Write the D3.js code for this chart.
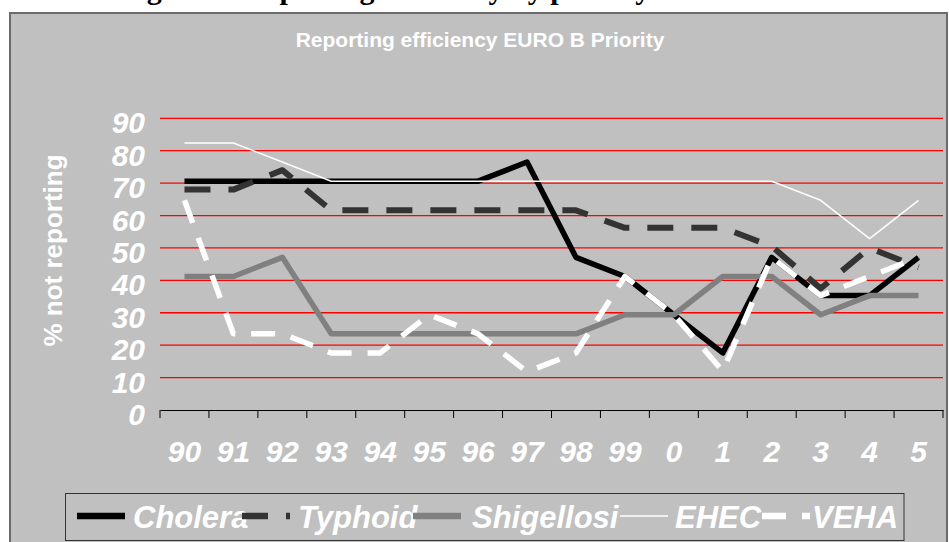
<!DOCTYPE html>
<html>
<head>
<meta charset="utf-8">
<script src="https://cdn.jsdelivr.net/npm/d3@7"></script>
<style>
  body { margin: 0; background: #fff; }
  text { font-family: "Liberation Sans", Arial, sans-serif; }
</style>
</head>
<body>
<svg width="949" height="542"></svg>
<script>
// categories (years) and % not reporting per disease
var years = ['90','91','92','93','94','95','96','97','98','99','0','1','2','3','4','5'];
var cholera     = [70.6,70.6,70.6,70.6,70.6,70.6,70.6,76.5,47.1,41.2,29.4,17.6,47.1,35.3,35.3,47.1];
var typhoid     = [68,68,74,61.6,61.6,61.6,61.6,61.6,61.6,56.2,56.2,56.2,50.5,37.5,50,44];
var shigellosis = [41.2,41.2,47.1,23.5,23.5,23.5,23.5,23.5,23.5,29.4,29.4,41.2,41.2,29.4,35.3,35.3];
var ehec        = [82.4,82.4,76.5,70.6,70.6,70.6,70.6,70.6,70.6,70.6,70.6,70.6,70.6,64.7,52.9,64.7];
var veha        = [64.7,23.5,23.5,17.6,17.6,29.4,23.5,11.8,17.6,41.2,29.4,12,47.1,35.3,41.2,47.1];
var yTicks = [0,10,20,30,40,50,60,70,80,90];

var series = [
  {name: 'Cholera',    values: cholera,     color: '#000',    width: 5.5, dash: null,    lx: 77,  tx: 133},
  {name: 'Typhoid',    values: typhoid,     color: '#333',    width: 6,   dash: '26,18', lx: 242, tx: 298},
  {name: 'Shigellosi', values: shigellosis, color: '#808080', width: 5.5, dash: null,    lx: 413, tx: 472},
  {name: 'EHEC',       values: ehec,        color: '#fff',    width: 1.5, dash: null,    lx: 620, tx: 675},
  {name: 'VEHA',       values: veha,        color: '#fff',    width: 5.5, dash: '24,16', lx: 762, tx: 812}
];

var svg = d3.select('svg');

// caption of the document above the chart, mostly cut off by the page edge
svg.append('text')
  .attr('x', 120).attr('y', -1)
  .style('font-family', '"Liberation Serif", "Times New Roman", serif')
  .style('font-weight', 'bold').style('font-size', '30px')
  .attr('fill', '#000')
  .text('Figure 4: Reporting efficiency by priority disease');

// chart frame
svg.append('rect')
  .attr('x', 10).attr('y', 13).attr('width', 937).attr('height', 545)
  .attr('fill', '#c0c0c0').attr('stroke', '#6b6b6b').attr('stroke-width', 2);

svg.append('text')
  .attr('x', 480).attr('y', 47)
  .attr('text-anchor', 'middle')
  .attr('fill', '#fff').style('font-weight', 'bold').style('font-size', '21px')
  .text('Reporting efficiency EURO B Priority');

var x = d3.scaleBand().domain(years).range([160, 943]).padding(0);
var y = d3.scaleLinear().domain([0, 90]).range([410, 118.3]);
var cx = function(i) { return x(years[i]) + x.bandwidth() / 2; };

// red gridlines
svg.append('g').selectAll('line')
  .data(yTicks.filter(function(d) { return d > 0; }))
  .enter().append('line')
  .attr('x1', 160).attr('x2', 943)
  .attr('y1', function(d) { return y(d); })
  .attr('y2', function(d) { return y(d); })
  .attr('stroke', '#ff0000').attr('stroke-width', 1.3);

// y labels
svg.append('g').selectAll('text')
  .data(yTicks)
  .enter().append('text')
  .attr('x', 145)
  .attr('y', function(d) { return y(d) + 15; })
  .attr('text-anchor', 'end')
  .attr('fill', '#fff')
  .style('font-weight', 'bold').style('font-style', 'italic').style('font-size', '30px')
  .text(function(d) { return d; });

svg.append('text')
  .attr('transform', 'translate(62,250.5) rotate(-90)')
  .attr('text-anchor', 'middle')
  .attr('fill', '#fff').style('font-weight', 'bold').style('font-size', '26px')
  .text('% not reporting');

// category axis, ticks between categories
var xAxis = svg.append('g').attr('transform', 'translate(0,410)')
  .call(d3.axisBottom(x).tickSize(0).tickPadding(0));
xAxis.select('.domain').attr('stroke', '#000').attr('stroke-width', 1);
xAxis.selectAll('text').remove();
xAxis.selectAll('.tick').append('line')
  .attr('x1', -x.bandwidth() / 2).attr('x2', -x.bandwidth() / 2)
  .attr('y1', 0).attr('y2', 8).attr('stroke', '#000');
xAxis.append('line')
  .attr('x1', 943).attr('x2', 943).attr('y1', 0).attr('y2', 8).attr('stroke', '#000');
xAxis.selectAll('.tick').append('text')
  .attr('y', 51.5)
  .attr('text-anchor', 'middle')
  .attr('fill', '#fff')
  .style('font-weight', 'bold').style('font-style', 'italic').style('font-size', '30px')
  .text(function(d) { return d; });

// series lines
var line = d3.line()
  .x(function(d, i) { return cx(i); })
  .y(function(d) { return y(d); });

svg.append('g').selectAll('path')
  .data(series)
  .enter().append('path')
  .attr('d', function(d) { return line(d.values); })
  .attr('fill', 'none')
  .attr('stroke', function(d) { return d.color; })
  .attr('stroke-width', function(d) { return d.width; })
  .attr('stroke-dasharray', function(d) { return d.dash; })
  .attr('stroke-linejoin', 'round');

// legend
svg.append('rect')
  .attr('x', 65.5).attr('y', 493.5).attr('width', 838.5).attr('height', 47)
  .attr('fill', '#c0c0c0').attr('stroke', '#333').attr('stroke-width', 1);

var leg = svg.append('g').selectAll('g')
  .data(series)
  .enter().append('g');

leg.append('line')
  .attr('x1', function(d) { return d.lx; })
  .attr('x2', function(d) { return d.lx + 48; })
  .attr('y1', 516).attr('y2', 516)
  .attr('stroke', function(d) { return d.color; })
  .attr('stroke-width', function(d) { return d.width === 1.5 ? 1.5 : 6.5; })
  .attr('stroke-dasharray', function(d) { return d.dash; });

leg.append('text')
  .attr('x', function(d) { return d.tx; })
  .attr('y', 527.5)
  .attr('fill', '#fff')
  .style('font-weight', 'bold').style('font-style', 'italic').style('font-size', '31px')
  .text(function(d) { return d.name; });
</script>
</body>
</html>
